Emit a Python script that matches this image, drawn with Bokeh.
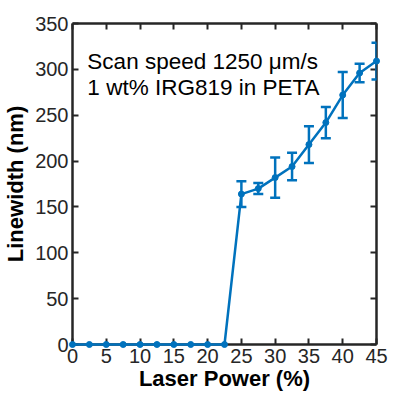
from bokeh.plotting import figure
from bokeh.models import (LinearAxis, Range1d, FixedTicker, Whisker, TeeHead,
                          ColumnDataSource, Label, CustomJSTickFormatter)
from bokeh.embed import file_html
from bokeh.resources import INLINE

# Data
power = [0, 2.5, 5, 7.5, 10, 12.5, 15, 17.5, 20, 22.5,
         25, 27.5, 30, 32.5, 35, 37.5, 40, 42.5, 45]
linewidth = [0, 0, 0, 0, 0, 0, 0, 0, 0, 0,
             164, 170, 182, 194, 218, 242, 272, 296, 309]
err = [0, 0, 0, 0, 0, 0, 0, 0, 0, 0,
       14, 6, 22, 15, 20, 17, 25, 10, 20]
x_ticks = [0, 5, 10, 15, 20, 25, 30, 35, 40, 45]
y_ticks = [0, 50, 100, 150, 200, 250, 300, 350]
annot = ["Scan speed 1250 \u03bcm/s", "1 wt% IRG819 in PETA"]

BLUE = "#0072BD"
AX = "#262626"
FONT = "Liberation Sans"

p = figure(width=394, height=393, output_backend="svg", toolbar_location=None,
           x_range=Range1d(0, 45), y_range=Range1d(0, 350),
           min_border_left=72, min_border_right=18, min_border_top=23,
           min_border_bottom=49, x_axis_location=None, y_axis_location=None)
p.grid.visible = False
p.outline_line_color = None
p.background_fill_color = "white"
p.border_fill_color = "white"


def style(ax, ticks, show_labels, label=None):
    ax.ticker = FixedTicker(ticks=ticks)
    ax.axis_line_color = AX
    ax.axis_line_width = 2.5
    ax.major_tick_line_color = AX
    ax.major_tick_line_width = 2
    ax.major_tick_in = 6
    ax.major_tick_out = 0
    ax.minor_tick_line_color = None
    ax.major_label_text_font = FONT
    ax.major_label_text_font_size = "20px"
    ax.major_label_text_color = AX
    if not show_labels:
        ax.formatter = CustomJSTickFormatter(code="return ''")
    if label:
        ax.axis_label = label
        ax.axis_label_text_font = FONT
        ax.axis_label_text_font_size = "22px"
        ax.axis_label_text_font_style = "bold"
        ax.axis_label_text_color = "black"


xb = LinearAxis()
style(xb, x_ticks, True, "Laser Power (%)")
xb.major_label_standoff = 4
xb.axis_label_standoff = 0
p.add_layout(xb, "below")

yl = LinearAxis()
style(yl, y_ticks, True, "Linewidth (nm)")
yl.major_label_standoff = 4
yl.axis_label_standoff = 4
p.add_layout(yl, "left")

xt = LinearAxis()
style(xt, x_ticks, False)
p.add_layout(xt, "above")

yr = LinearAxis()
style(yr, y_ticks, False)
p.add_layout(yr, "right")

src = ColumnDataSource(dict(x=power, y=linewidth))
ln = p.line("x", "y", source=src, line_color=BLUE, line_width=2.5)
sc = p.scatter("x", "y", source=src, size=6, fill_color=BLUE, line_color=BLUE)
ln.level = "overlay"
sc.level = "overlay"

ex = [x for x, e in zip(power, err) if e > 0]
ey = [y for y, e in zip(linewidth, err) if e > 0]
ee = [e for e in err if e > 0]
esrc = ColumnDataSource(dict(x=ex, lo=[y - e for y, e in zip(ey, ee)],
                             hi=[y + e for y, e in zip(ey, ee)]))
wh = Whisker(base="x", lower="lo", upper="hi", source=esrc,
             line_color=BLUE, line_width=2.5,
             upper_head=TeeHead(size=10, line_color=BLUE, line_width=2.5),
             lower_head=TeeHead(size=10, line_color=BLUE, line_width=2.5),
             level="overlay")
p.add_layout(wh)

for i, (txt, yy) in enumerate(zip(annot, [309, 280.5])):
    p.add_layout(Label(x=2.2, y=yy, text=txt, text_font=FONT,
                       text_font_size="22.5px", text_color="black",
                       text_baseline="alphabetic", text_align="left"))

open("out.html", "w").write(file_html(p, INLINE))
